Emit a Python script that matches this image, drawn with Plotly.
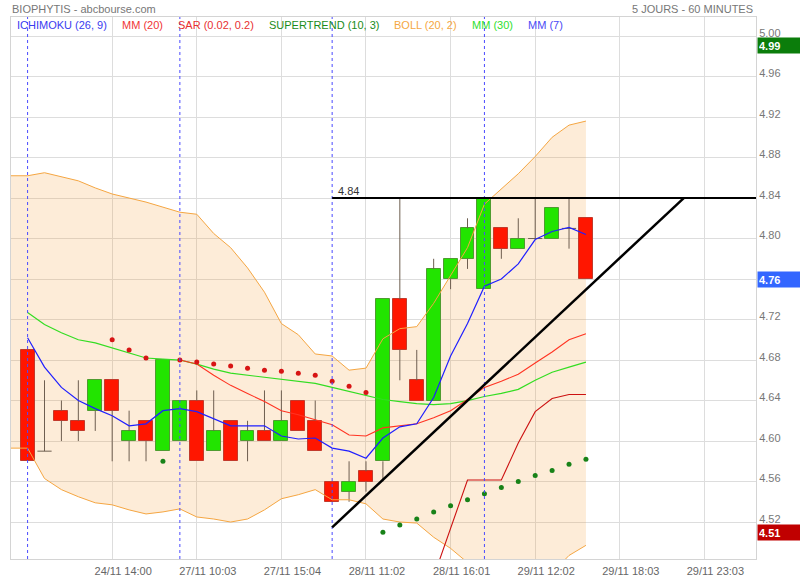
import plotly.graph_objects as go

# ---------------- data ----------------
tick_pos = [5, 10, 15, 20, 25, 30, 35, 40]
tick_labels = ["24/11 14:00", "27/11 10:03", "27/11 15:04", "28/11 11:02",
               "28/11 16:01", "29/11 12:02", "29/11 18:03", "29/11 23:03"]
day_starts = [0, 9, 18, 27]
y_ticks = [4.52, 4.56, 4.60, 4.64, 4.68, 4.72, 4.76, 4.80, 4.84, 4.88, 4.92, 4.96, 5.00]

bar_index = list(range(34))
opens = [4.69, 4.59, 4.63, 4.62, 4.63, 4.66, 4.60, 4.62, 4.59, 4.60,
         4.64, 4.59, 4.62, 4.60, 4.61, 4.60, 4.64, 4.62, 4.56, 4.55,
         4.57, 4.58, 4.74, 4.66, 4.64, 4.76, 4.78, 4.75, 4.81, 4.79,
         4.80, 4.80, 4.81, 4.82]
highs = [4.69, 4.66, 4.64, 4.66, 4.66, 4.66, 4.63, 4.62, 4.68, 4.64,
         4.65, 4.65, 4.62, 4.62, 4.65, 4.65, 4.64, 4.64, 4.56, 4.58,
         4.58, 4.74, 4.84, 4.69, 4.78, 4.78, 4.82, 4.84, 4.81, 4.82,
         4.84, 4.83, 4.84, 4.82]
lows = [4.58, 4.59, 4.60, 4.60, 4.61, 4.58, 4.58, 4.58, 4.59, 4.60,
        4.58, 4.59, 4.58, 4.58, 4.60, 4.60, 4.61, 4.59, 4.54, 4.54,
        4.55, 4.56, 4.66, 4.64, 4.64, 4.75, 4.77, 4.75, 4.78, 4.79,
        4.80, 4.80, 4.79, 4.76]
closes = [4.58, 4.59, 4.62, 4.61, 4.66, 4.63, 4.61, 4.60, 4.68, 4.64,
          4.58, 4.61, 4.58, 4.61, 4.60, 4.62, 4.61, 4.59, 4.54, 4.56,
          4.56, 4.74, 4.69, 4.64, 4.77, 4.78, 4.81, 4.84, 4.79, 4.80,
          4.80, 4.83, 4.81, 4.76]

mm7 = [4.702, 4.673, 4.653, 4.640, 4.632, 4.625, 4.615, 4.617, 4.630, 4.632,
       4.629, 4.622, 4.615, 4.615, 4.615, 4.605, 4.602, 4.603, 4.593, 4.590,
       4.583, 4.603, 4.614, 4.617, 4.643, 4.684, 4.716, 4.753, 4.760, 4.775,
       4.799, 4.807, 4.811, 4.804]
mm20 = [None] * 9 + [4.680, 4.676, 4.665, 4.655, 4.647, 4.639, 4.630, 4.626, 4.621, 4.616,
                     4.606, 4.605, 4.613, 4.615, 4.617, 4.623, 4.630, 4.641, 4.653, 4.659,
                     4.666, 4.677, 4.688, 4.700, 4.706]
mm30 = [4.727, 4.715, 4.707, 4.700, 4.697, 4.692, 4.687, 4.682, 4.681, 4.680,
        4.676, 4.671, 4.667, 4.665, 4.663, 4.661, 4.659, 4.657, 4.653, 4.649,
        4.645, 4.641, 4.639, 4.637, 4.636, 4.637, 4.640, 4.644, 4.647, 4.651,
        4.660, 4.668, 4.673, 4.678]

boll_x = list(range(-1, 34))
boll_upper = [4.862, 4.862, 4.865, 4.861, 4.857, 4.850, 4.844, 4.840, 4.836, 4.831,
              4.826, 4.824, 4.805, 4.791, 4.771, 4.747, 4.716, 4.705, 4.686, 4.684,
              4.670, 4.672, 4.701, 4.711, 4.713, 4.736, 4.764, 4.791, 4.834, 4.849,
              4.864, 4.881, 4.900, 4.912, 4.916]
boll_lower = [4.593, 4.593, 4.563, 4.552, 4.545, 4.539, 4.537, 4.532, 4.528, 4.530,
              4.533, 4.525, 4.523, 4.520, 4.523, 4.532, 4.543, 4.547, 4.552, 4.542,
              4.542, 4.538, 4.523, 4.520, 4.519, 4.505, 4.494, 4.480, 4.455, 4.440,
              4.440, 4.452, 4.470, 4.487, 4.497]

supertrend = [None] * 24 + [4.466, 4.514, 4.5615, 4.5615, 4.5615, 4.598, 4.629, 4.642, 4.646, 4.646]

sar_red_x = [5, 6, 7, 9, 10, 11, 12, 13, 14, 15, 16, 17, 18, 19, 20]
sar_red_y = [4.700, 4.690, 4.682, 4.680, 4.678, 4.676, 4.674, 4.672, 4.670, 4.669,
             4.667, 4.665, 4.659, 4.654, 4.648]
sar_green_x = [8, 21, 22, 23, 24, 25, 26, 27, 28, 29, 30, 31, 32, 33]
sar_green_y = [4.580, 4.510, 4.517, 4.523, 4.530, 4.536, 4.542, 4.548, 4.554, 4.560,
               4.566, 4.571, 4.577, 4.582]

resistance_level = 4.84
resistance_start = 18
trend_start = (18, 4.5148)
trend_end = (38.78, 4.84)

price_tags = [("4.99", 4.991, "#0b7d0b"), ("4.76", 4.76, "#3366ff"), ("4.51", 4.51, "#c00000")]
legend_items = [("ICHIMOKU (26, 9)", "#3b3bf0", 15), ("MM (20)", "#f03535", 120),
                ("SAR (0.02, 0.2)", "#e83030", 176), ("SUPERTREND (10, 3)", "#1a8c1a", 267),
                ("BOLL (20, 2)", "#f5a742", 392), ("MM (30)", "#2ee02e", 470),
                ("MM (7)", "#4a4af5", 526)]

X_RANGE = [-0.98, 43.05]
Y_RANGE = [4.4835, 5.0188]
FONT = "Liberation Sans, Arial, sans-serif"
PL, PR, PT, PB = 11, 756, 17, 559

# ---------------- figure ----------------
fig = go.Figure()

# candle wicks (outside the bodies) and doji ticks
wx, wy = [], []
for k, o, h, l, c in zip(bar_index, opens, highs, lows, closes):
    lo_b, hi_b = min(o, c), max(o, c)
    if h > hi_b:
        wx += [k, k, None]; wy += [hi_b, h, None]
    if l < lo_b:
        wx += [k, k, None]; wy += [l, lo_b, None]
    if o == c:
        wx += [k - 0.42, k + 0.42, None]; wy += [o, o, None]
fig.add_trace(go.Scatter(x=wx, y=wy, mode="lines", line=dict(color="#6e5e50", width=1),
                         hoverinfo="skip", showlegend=False))

# candle bodies
bx, bbase, bh, bcol, bline = [], [], [], [], []
for k, o, c in zip(bar_index, opens, closes):
    if o == c:
        continue
    bx.append(k)
    bbase.append(min(o, c))
    bh.append(abs(c - o))
    up = c > o
    bcol.append("#22e400" if up else "#ff1600")
    bline.append("#4e9c30" if up else "#c23a2c")
fig.add_trace(go.Bar(x=bx, y=bh, base=bbase, width=0.82,
                     marker=dict(color=bcol, line=dict(color=bline, width=1)),
                     hoverinfo="skip", showlegend=False))

# Bollinger band lines
fig.add_trace(go.Scatter(x=boll_x, y=boll_upper, mode="lines",
                         line=dict(color="#f5a642", width=1), showlegend=False))
fig.add_trace(go.Scatter(x=boll_x, y=boll_lower, mode="lines",
                         line=dict(color="#f5a642", width=1), showlegend=False))

# moving averages
fig.add_trace(go.Scatter(x=bar_index, y=mm30, mode="lines",
                         line=dict(color="#33dd22", width=1.2), showlegend=False))
fig.add_trace(go.Scatter(x=bar_index, y=mm20, mode="lines",
                         line=dict(color="#ff3322", width=1.1), showlegend=False))
fig.add_trace(go.Scatter(x=bar_index, y=mm7, mode="lines",
                         line=dict(color="#1f1fff", width=1.2), showlegend=False))

# supertrend
fig.add_trace(go.Scatter(x=bar_index, y=supertrend, mode="lines",
                         line=dict(color="#cc1111", width=1.1), showlegend=False))

# SAR
fig.add_trace(go.Scatter(x=sar_red_x, y=sar_red_y, mode="markers",
                         marker=dict(color="#d71414", size=5), showlegend=False))
fig.add_trace(go.Scatter(x=sar_green_x, y=sar_green_y, mode="markers",
                         marker=dict(color="#188218", size=5), showlegend=False))

# Bollinger fill as a shape between grid and traces
pts = [(x, y) for x, y in zip(boll_x, boll_upper)] + \
      [(x, y) for x, y in zip(boll_x[::-1], boll_lower[::-1])]
path = "M " + " L ".join(f"{x},{y}" for x, y in pts) + " Z"
shapes = [dict(type="path", path=path, xref="x", yref="y", layer="between",
               fillcolor="rgba(245,160,60,0.2)", line=dict(width=0))]

# day separators
for d in day_starts:
    shapes.append(dict(type="line", xref="x", yref="paper", x0=d, x1=d, y0=0, y1=1,
                       line=dict(color="#4a4aff", width=1, dash="dot"), layer="above"))

# drawn lines
shapes.append(dict(type="line", xref="x", yref="y", x0=resistance_start, x1=X_RANGE[1],
                   y0=resistance_level, y1=resistance_level,
                   line=dict(color="black", width=2), layer="above"))
shapes.append(dict(type="line", xref="x", yref="y", x0=trend_start[0], y0=trend_start[1],
                   x1=trend_end[0], y1=trend_end[1],
                   line=dict(color="black", width=2.5), layer="above"))

annotations = []
annotations.append(dict(x=resistance_start, y=resistance_level, xref="x", yref="y",
                        text=f"{resistance_level:.2f}", showarrow=False, xanchor="left",
                        yanchor="bottom", xshift=4, yshift=-1,
                        font=dict(family=FONT, size=11, color="#333")))

W, H = PR - PL, PB - PT
for text, color, px in legend_items:
    annotations.append(dict(x=(px - PL) / W, y=(PB - 25.5) / H, xref="paper", yref="paper",
                            text=text, showarrow=False, xanchor="left", yanchor="middle",
                            font=dict(family=FONT, size=11, color=color)))

annotations.append(dict(x=(10 - PL) / W, y=(PB - 9) / H, xref="paper", yref="paper",
                        text="BIOPHYTIS - abcbourse.com", showarrow=False, xanchor="left",
                        yanchor="middle", font=dict(family=FONT, size=11, color="#777")))
annotations.append(dict(x=(755 - PL) / W, y=(PB - 9) / H, xref="paper", yref="paper",
                        text="5 JOURS - 60 MINUTES", showarrow=False, xanchor="right",
                        yanchor="middle", font=dict(family=FONT, size=11, color="#777")))

for text, val, col in price_tags:
    annotations.append(dict(x=(757 - PL) / W, y=val, xref="paper", yref="y", text=f"<b>{text}</b>",
                            showarrow=False, xanchor="left", yanchor="middle", align="left",
                            width=40, height=13, bgcolor=col, borderpad=1,
                            font=dict(family=FONT, size=11, color="white")))

fig.update_layout(
    width=800, height=580,
    margin=dict(l=PL, r=800 - PR, t=PT, b=580 - PB, autoexpand=False),
    paper_bgcolor="white", plot_bgcolor="white",
    showlegend=False, bargap=0,
    shapes=shapes, annotations=annotations,
    font=dict(family=FONT, size=11, color="#666"),
    xaxis=dict(range=X_RANGE, tickvals=tick_pos, ticktext=tick_labels,
               showgrid=True, gridcolor="#dddddd", gridwidth=1,
               showline=True, linecolor="#d4d4d4", mirror=True, zeroline=False,
               ticks="", ticklabelshift=11, ticklabelstandoff=2,
               tickfont=dict(family=FONT, size=11, color="#666")),
    yaxis=dict(range=Y_RANGE, side="right", tickvals=y_ticks, tickformat=".2f",
               showgrid=True, gridcolor="#dddddd", gridwidth=1,
               showline=True, linecolor="#d4d4d4", mirror=True, zeroline=False,
               ticks="", ticklabelshift=-3, tickfont=dict(family=FONT, size=11, color="#777")),
)

fig.write_html("out.html", config={"displayModeBar": False},
               post_script="document.body.style.margin='0px';")
